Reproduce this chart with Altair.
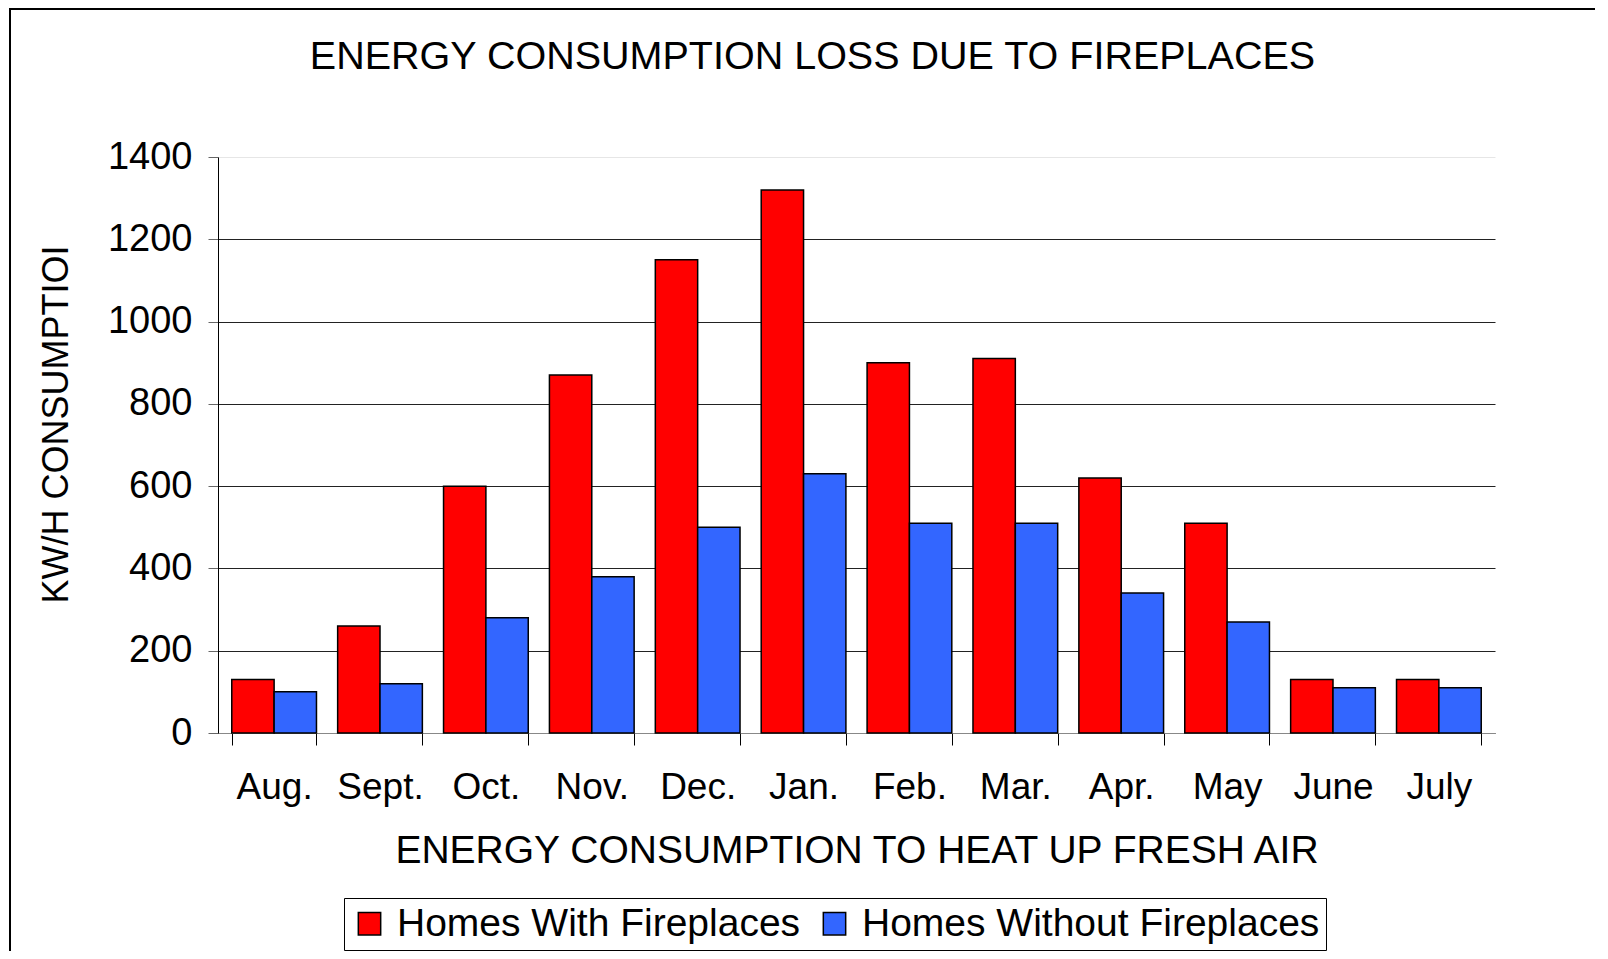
import altair as alt
import pandas as pd

months = ["Aug.", "Sept.", "Oct.", "Nov.", "Dec.", "Jan.", "Feb.", "Mar.", "Apr.", "May", "June", "July"]
with_fp = [130, 260, 600, 870, 1150, 1320, 900, 910, 620, 510, 130, 130]
without_fp = [100, 120, 280, 380, 500, 630, 510, 510, 340, 270, 110, 110]
series = ["Homes With Fireplaces", "Homes Without Fireplaces"]
colors = ["#FF0000", "#3366FF"]
y_ticks = [0, 200, 400, 600, 800, 1000, 1200, 1400]

rows = []
for m, a, b in zip(months, with_fp, without_fp):
    rows.append({"month": m, "series": series[0], "value": a})
    rows.append({"month": m, "series": series[1], "value": b})
df = pd.DataFrame(rows)

FONT = "Liberation Sans"
W, H = 1277, 576

bars = alt.Chart(df).mark_bar(stroke="black", strokeWidth=1.5).encode(
    x=alt.X(
        "month:N",
        sort=months,
        scale=alt.Scale(paddingInner=0.2, paddingOuter=0.13),
        axis=alt.Axis(
            title="ENERGY CONSUMPTION TO HEAT UP FRESH AIR",
            labelAngle=0,
            tickBand="extent",
            domainColor="#888888",
            tickColor="black",
            tickSize=12,
            labelPadding=24,
            labelFontSize=37,
            labelFont=FONT,
            labelColor="black",
            titleFontSize=39,
            titleFont=FONT,
            titleFontWeight="normal",
            titleColor="black",
            titlePadding=26,
        ),
    ),
    xOffset=alt.XOffset("series:N", sort=series, scale=alt.Scale(paddingInner=0, paddingOuter=0)),
    y=alt.Y(
        "value:Q",
        scale=alt.Scale(domain=[0, 1400], nice=False),
        axis=alt.Axis(
            values=y_ticks,
            format="d",
            title="KW/H CONSUMPTIOI",
            titleAngle=-90,
            titleX=-162,
            titleY=267,
            titleAlign="center",
            titleBaseline="middle",
            titleFontSize=36,
            titleFont=FONT,
            titleFontWeight="normal",
            titleColor="black",
            labelFontSize=38,
            labelFont=FONT,
            labelColor="black",
            labelPadding=16,
            tickSize=10,
            tickColor="#666666",
            domainColor="black",
            gridColor={"condition": {"test": "datum.value == 1400", "value": "#e6e6e6"}, "value": "#222222"},
            gridWidth=1,
        ),
    ),
    color=alt.Color(
        "series:N",
        scale=alt.Scale(domain=series, range=colors),
        legend=alt.Legend(
            title=None,
            orient="none",
            legendX=126,
            legendY=741,
            direction="horizontal",
            strokeColor="black",
            fillColor="white",
            padding=6,
            symbolType="square",
            symbolSize=500,
            symbolStrokeColor="black",
            symbolStrokeWidth=1.5,
            labelFontSize=39,
            labelFont=FONT,
            labelColor="black",
            labelLimit=1000,
            columnPadding=14,
            labelOffset=8,
        ),
    ),
)

frame = alt.Chart(alt.Data(values=[{"k": 1}])).mark_rect(
    fillOpacity=0, stroke="black", strokeWidth=2
).encode(
    x=alt.value(-208),
    x2=alt.value(1500),
    y=alt.value(-148),
    y2=alt.value(1000),
)

chart = alt.layer(frame, bars).properties(
    width=W,
    height=H,
    autosize=alt.AutoSizeParams(type="none"),
    padding={"left": 210, "top": 149, "right": 100, "bottom": 218},
    title=alt.TitleParams(
        text="ENERGY CONSUMPTION LOSS DUE TO FIREPLACES",
        fontSize=39.5,
        font=FONT,
        fontWeight="normal",
        color="black",
        anchor="middle",
        frame="group",
        baseline="alphabetic",
        dx=-44,
        offset=0,
        dy=100,
    ),
).configure_view(strokeWidth=0).configure_axisY(grid=True).configure_axisX(grid=False)

chart.save("out.html", embed_options={"renderer": "svg", "actions": False})
